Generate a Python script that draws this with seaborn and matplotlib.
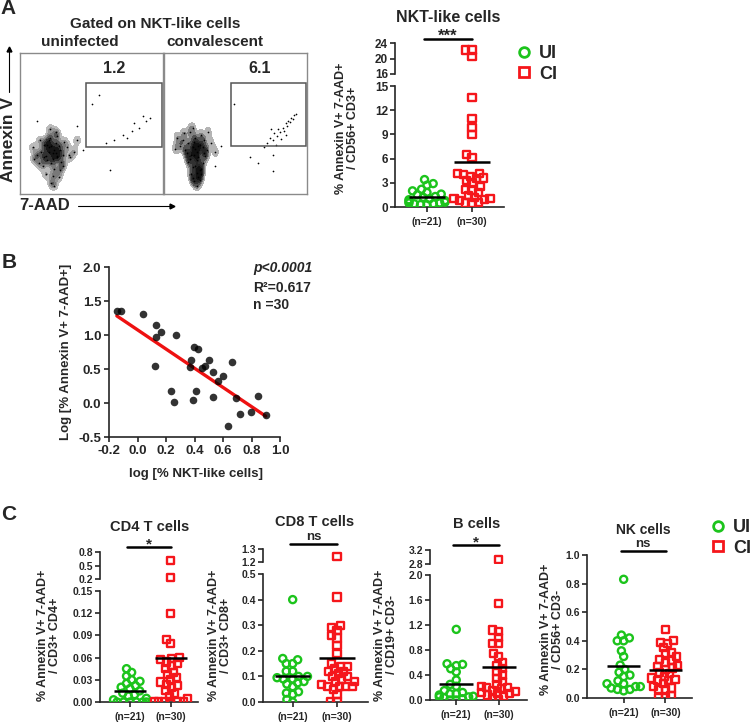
import numpy as np
import pandas as pd
import seaborn as sns
import matplotlib.pyplot as plt
import matplotlib.transforms as mtransforms
from matplotlib.lines import Line2D
from matplotlib.patches import Rectangle

W, H = 750, 724
GREEN = "#1cc41c"
RED = "#f5161b"

groups = ["UI", "CI"]
n_labels = ["(n=21)", "(n=30)"]

# panel A right: NKT-like cells
nkt_ui = [3.4, 2.9, 2.7, 2.2, 2.0, 1.8, 1.6, 1.5, 1.3, 1.2, 1.0, 0.9, 0.8, 0.7,
          0.6, 0.5, 0.5, 0.4, 0.3, 0.3, 0.4]
nkt_ci = [22.2, 22.2, 20.4, 13.6, 11.0, 9.8, 9.0, 6.5, 6.1, 4.2, 4.1, 4.0, 3.8,
          3.6, 3.5, 3.3, 3.0, 2.5, 2.2, 2.0, 1.8, 1.4, 1.2, 1.1, 1.0, 0.9, 0.8,
          0.6, 0.5, 0.5]

# panel B: correlation
log_nkt = [-0.145, -0.115, 0.039, 0.133, 0.133, 0.168, 0.121, 0.273, 0.238, 0.255,
           0.374, 0.367, 0.398, 0.426, 0.414, 0.386, 0.451, 0.477, 0.501, 0.531,
           0.531, 0.566, 0.602, 0.665, 0.691, 0.637, 0.719, 0.794, 0.848, 0.899]
log_apop = [1.35, 1.35, 1.31, 1.14, 0.965, 1.04, 0.55, 1.0, 0.17, 0.01,
            0.63, 0.535, 0.82, 0.79, 0.18, 0.04, 0.51, 0.545, 0.63, 0.46,
            0.09, 0.33, 0.39, 0.60, 0.07, -0.34, -0.16, -0.13, 0.11, -0.17]

# panel C
cd4_ui = [0.045, 0.040, 0.035, 0.030, 0.028, 0.025, 0.022, 0.020, 0.018, 0.015,
          0.012, 0.010, 0.008, 0.005, 0.003, 0, 0, 0, 0, 0, 0]
cd4_ci = [0.61, 0.23, 0.12, 0.085, 0.079, 0.060, 0.059, 0.057, 0.054, 0.052,
          0.049, 0.045, 0.040, 0.037, 0.033, 0.030, 0.027, 0.024, 0.022, 0.019,
          0.015, 0.012, 0.008, 0.004, 0, 0, 0, 0, 0, 0]
cd8_ui = [0.40, 0.17, 0.165, 0.15, 0.15, 0.12, 0.12, 0.10, 0.10, 0.095, 0.09,
          0.09, 0.08, 0.075, 0.07, 0.06, 0.04, 0.035, 0.03, 0.01, 0.0]
cd8_ci = [1.24, 0.41, 0.30, 0.29, 0.28, 0.26, 0.25, 0.22, 0.19, 0.15, 0.14, 0.14,
          0.13, 0.12, 0.12, 0.11, 0.10, 0.10, 0.09, 0.08, 0.08, 0.07, 0.06, 0.06,
          0.06, 0.06, 0.05, 0.03, 0.0, 0.0]
b_ui = [1.13, 0.58, 0.57, 0.55, 0.50, 0.45, 0.32, 0.25, 0.22, 0.15, 0.12, 0.10,
        0.10, 0.08, 0.06, 0.05, 0.05, 0.04, 0.02, 0.0, 0.0]
b_ci = [2.94, 1.55, 1.12, 1.10, 1.0, 0.9, 0.9, 0.75, 0.7, 0.6, 0.55, 0.5, 0.45,
        0.4, 0.35, 0.3, 0.25, 0.22, 0.2, 0.2, 0.18, 0.15, 0.13, 0.12, 0.1, 0.1,
        0.08, 0.06, 0.02, 0.0]
nk_ui = [0.83, 0.44, 0.42, 0.40, 0.40, 0.33, 0.29, 0.23, 0.20, 0.18, 0.16, 0.15,
         0.12, 0.10, 0.10, 0.08, 0.08, 0.07, 0.06, 0.06, 0.05]
nk_ci = [0.48, 0.40, 0.39, 0.38, 0.35, 0.32, 0.31, 0.29, 0.27, 0.26, 0.25, 0.23,
         0.22, 0.21, 0.20, 0.18, 0.17, 0.15, 0.14, 0.13, 0.12, 0.12, 0.10, 0.08,
         0.07, 0.06, 0.06, 0.02, 0.0, 0.0]

# flow dot plots (arbitrary 0-100 scale)
left_cloud_x = [23, 20, 26, 18, 28, 22, 25, 15, 30, 21, 24, 19, 27, 17, 29, 23, 12, 33,
                20, 26, 22, 16, 31, 25, 18, 28, 14, 35, 21, 24, 10, 38, 19, 27, 23, 22,
                13, 30, 26, 17, 20, 25, 9, 40, 24]
left_cloud_y = [29, 33, 26, 27, 31, 22, 36, 30, 28, 40, 18, 24, 34, 35, 23, 13, 28, 33,
                30, 41, 8, 20, 37, 44, 14, 17, 38, 26, 46, 31, 25, 30, 35, 12, 25, 34,
                22, 20, 27, 26, 38, 29, 33, 38, 6]
left_event_x = [66, 72, 78, 83, 88, 91, 60, 75, 44, 34, 55, 80, 50, 40, 86, 63, 12]
left_event_y = [38, 42, 45, 47, 52, 54, 36, 40, 31, 28, 70, 50, 64, 48, 55, 17, 52]
right_cloud_x = [20, 17, 23, 15, 25, 19, 22, 13, 27, 18, 24, 21, 16, 26, 30, 11, 20, 23,
                 18, 28, 9, 33, 22, 25, 19, 24, 27, 21, 23, 26, 20, 29, 17, 25, 22, 24,
                 21, 26, 23, 20, 14, 31, 36, 8, 28]
right_cloud_y = [33, 36, 30, 31, 35, 28, 40, 38, 33, 44, 26, 37, 29, 42, 31, 34, 47, 24,
                 25, 38, 40, 36, 20, 17, 14, 12, 22, 9, 15, 18, 19, 27, 23, 10, 32, 34,
                 28, 14, 6, 11, 43, 44, 30, 32, 29]
right_event_x = [72, 74, 76, 77, 79, 80, 81, 83, 84, 85, 86, 87, 88, 89, 90, 91, 92, 78,
                 82, 85, 75, 70, 60, 49, 66, 36, 40, 76, 76]
right_event_y = [36, 40, 38, 43, 41, 46, 44, 47, 45, 50, 48, 52, 51, 54, 53, 56, 57, 35,
                 39, 42, 46, 33, 26, 64, 22, 20, 34, 28, 16]
left_gate = [46, 99, 33, 79]
right_gate = [47, 99, 34, 79]

sns.set_style("white")
plt.rcParams["font.family"] = ["Liberation Sans", "DejaVu Sans"]
plt.rcParams["font.weight"] = "bold"
plt.rcParams["axes.labelweight"] = "bold"

fig = plt.figure(figsize=(W / 100, H / 100), dpi=100)


def px_axes(left, top, right, bottom):
    return fig.add_axes([left / W, 1 - bottom / H, (right - left) / W, (bottom - top) / H])


def ftext(x, y, s, **kw):
    kw.setdefault("ha", "center")
    kw.setdefault("va", "center")
    kw.setdefault("fontweight", "bold")
    fig.text(x / W, 1 - y / H, s, **kw)


swarm_colls = []


def style_axis(ax, fs, bottom=True):
    sns.despine(ax=ax, bottom=not bottom)
    ax.spines["left"].set_linewidth(1.2)
    ax.spines["bottom"].set_linewidth(1.2)
    ax.tick_params(axis="y", direction="out", length=3.5, width=1.2, labelsize=fs, pad=1.5, left=True)
    if bottom:
        ax.tick_params(axis="x", direction="out", length=3.5, width=1.2, labelsize=7.5, pad=4, bottom=True)
    else:
        ax.tick_params(axis="x", bottom=False, labelbottom=False)
    ax.set_xlabel("")
    ax.set_ylabel("")


def swarm(ax, ui, ci, means=True, clip=True):
    df = pd.DataFrame({"group": ["UI"] * len(ui) + ["CI"] * len(ci),
                       "value": list(ui) + list(ci)})
    for g, m, c in [("UI", "o", GREEN), ("CI", "s", RED)]:
        sub = df[df.group == g]
        if len(sub) == 0:
            continue
        n0 = len(ax.collections)
        sns.swarmplot(data=sub, x="group", y="value", order=groups,
                      marker=m, color=c, size=4.4, linewidth=0, ax=ax)
        for coll in ax.collections[n0:]:
            swarm_colls.append((coll, c, clip))
    if means:
        for i, v in enumerate([ui, ci]):
            ax.hlines(np.mean(v), i - 0.4, i + 0.4, color="black", lw=1.8, zorder=5)


def dot_panel(low_box, up_box, xlim, ui, ci, low_lim, low_ticks, up_lim, up_ticks,
              fmt, fs, sig, sig_y, sig_fs, sig_dy):
    ax = px_axes(*low_box)
    swarm(ax, ui, ci)
    ax.set_xlim(*xlim)
    ax.set_ylim(*low_lim)
    ax.set_yticks(low_ticks)
    ax.set_yticklabels([fmt.format(t) for t in low_ticks])
    ax.set_xticks([0, 1])
    ax.set_xticklabels(n_labels)
    style_axis(ax, fs)
    top_ax = ax
    if up_box is not None:
        ax2 = px_axes(*up_box)
        # only the values above the break belong on the upper segment
        swarm(ax2, [v for v in ui if v > low_lim[1]], [v for v in ci if v > low_lim[1]],
              means=False, clip=False)
        ax2.set_xlim(*xlim)
        ax2.set_ylim(*up_lim)
        ax2.set_yticks(up_ticks)
        ax2.set_yticklabels(["{:g}".format(t) if fmt == "{:g}" else "{:.1f}".format(t) for t in up_ticks])
        style_axis(ax2, fs, bottom=False)
        top_ax = ax2
    trans = mtransforms.blended_transform_factory(top_ax.transData, fig.transFigure)
    yb = 1 - sig_y / H
    top_ax.plot([-0.07, 1.01], [yb, yb], color="black", lw=1.8, transform=trans, clip_on=False)
    top_ax.text(0.47, 1 - (sig_y - sig_dy) / H, sig, transform=trans, ha="center", va="center",
                fontsize=sig_fs, fontweight="bold")
    return ax


# ---------------- panel A: flow plots ----------------
flow_cmap = sns.blend_palette(["#d0d0d0", "#3a3a3a", "#050505"], as_cmap=True)


def flow(box, cx, cy, ex, ey, gate, value):
    ax = px_axes(*box)
    sns.kdeplot(x=cx, y=cy, fill=True, cmap=flow_cmap, levels=7, thresh=0.07,
                bw_adjust=0.55, ax=ax)
    sns.scatterplot(x=cx + ex, y=cy + ey, s=1.5, color="black", linewidth=0, ax=ax)
    ax.add_patch(Rectangle((gate[0], gate[2]), gate[1] - gate[0], gate[3] - gate[2],
                           fill=False, ec="#555555", lw=1.1))
    ax.text(gate[0] + 20, 89, value, ha="center", va="center", fontsize=11.5, fontweight="bold")
    ax.set_xlim(0, 100)
    ax.set_ylim(0, 100)
    ax.set_xticks([])
    ax.set_yticks([])
    ax.set_xlabel("")
    ax.set_ylabel("")
    for s in ax.spines.values():
        s.set_color("#8a8a8a")
        s.set_linewidth(1.0)


flow((20, 53, 163, 194), left_cloud_x, left_cloud_y, left_event_x, left_event_y, left_gate, "1.2")
flow((164, 53, 307, 194), right_cloud_x, right_cloud_y, right_event_x, right_event_y, right_gate, "6.1")

ftext(8, 9, "A", fontsize=15)
ftext(155, 24, "Gated on NKT-like cells", fontsize=11)
ftext(80, 42, "uninfected", fontsize=11)
ftext(215, 42, "convalescent", fontsize=11)
ftext(9, 140, "Annexin V", rotation=90, fontsize=12.5)
ftext(45, 206, "7-AAD", fontsize=12)
fig.add_artist(plt.Line2D([9 / W, 9 / W], [1 - 92 / H, 1 - 50 / H], color="black", lw=0.8))
fig.add_artist(plt.Line2D([78 / W, 170 / W], [1 - 206 / H, 1 - 206 / H], color="black", lw=0.8))
fig.add_artist(plt.Line2D([9 / W], [1 - 49 / H], marker="^", ms=3.5, color="black", lw=0))
fig.add_artist(plt.Line2D([172 / W], [1 - 206 / H], marker=">", ms=3.5, color="black", lw=0))

# ---------------- panel A: NKT dot plot ----------------
dot_panel((395, 86, 504, 207), (395, 43, 504, 74), (-0.71, 1.71), nkt_ui, nkt_ci,
          (0, 15), [0, 3, 6, 9, 12, 15], (16, 24), [16, 20, 24], "{:g}", 8.5,
          "***", 39, 12, 3)
ftext(448, 17, "NKT-like cells", fontsize=11.5)
ftext(347, 128, "% Annexin V+ 7-AAD+\n/ CD56+ CD3+", rotation=90, fontsize=9, linespacing=1.0)

leg_handles = [Line2D([], [], marker="o", ls="", mfc="none", mec=GREEN, mew=2.0, ms=7),
               Line2D([], [], marker="s", ls="", mfc="none", mec=RED, mew=2.0, ms=7)]
leg_kw = dict(frameon=False, handlelength=0.6, handletextpad=0.5, labelspacing=0.2,
              borderpad=0, borderaxespad=0, prop={"size": 13, "weight": "bold"})
fig.legend(leg_handles, groups, loc="upper left", bbox_to_anchor=(519 / W, 1 - 45 / H), **leg_kw)

# ---------------- panel B ----------------
axb = px_axes(109, 267, 280, 437)
sns.regplot(x=log_nkt, y=log_apop, ci=None, ax=axb,
            scatter_kws={"color": "black", "s": 30, "linewidths": 0, "zorder": 3},
            line_kws={"color": "#ee1111", "lw": 2.4, "zorder": 2})
axb.set_xlim(-0.2, 1.0)
axb.set_ylim(-0.5, 2.0)
axb.set_xticks([-0.2, 0.0, 0.2, 0.4, 0.6, 0.8, 1.0])
axb.set_yticks([-0.5, 0.0, 0.5, 1.0, 1.5, 2.0])
axb.set_xticklabels(["{:.1f}".format(t) for t in axb.get_xticks()])
axb.set_yticklabels(["{:.1f}".format(t) for t in axb.get_yticks()])
style_axis(axb, 9.5)
axb.tick_params(axis="x", labelsize=9.5, pad=2)
axb.tick_params(axis="y", pad=2)
ftext(9, 263, "B", fontsize=15)
ftext(196, 474, "log [% NKT-like cells]", fontsize=9.5)
ftext(66, 352, "Log [% Annexin V+ 7-AAD+]", rotation=90, fontsize=9.5)
ftext(253, 268, "p<0.0001", ha="left", fontsize=10, style="italic")
ftext(253, 288, "R\u00b2=0.617", ha="left", fontsize=10)
ftext(253, 305, "n =30", ha="left", fontsize=10)

# ---------------- panel C ----------------
ftext(9, 515, "C", fontsize=15)
dot_panel((100, 591, 198, 702), (100, 552, 198, 579), (-0.73, 1.66), cd4_ui, cd4_ci,
          (0, 0.15), [0.0, 0.03, 0.06, 0.09, 0.12, 0.15], (0.2, 0.8), [0.2, 0.5, 0.8],
          "{:.2f}", 7.5, "*", 547, 11, 3)
ftext(150, 527, "CD4 T cells", fontsize=10.5)
ftext(49, 635, "% Annexin V+ 7-AAD+\n/ CD3+ CD4+", rotation=90, fontsize=9, linespacing=1.0)

dot_panel((263, 574, 368, 702), (263, 549, 368, 562), (-0.67, 1.7), cd8_ui, cd8_ci,
          (0, 0.5), [0.0, 0.1, 0.2, 0.3, 0.4, 0.5], (1.2, 1.3), [1.2, 1.3],
          "{:.1f}", 7.5, "ns", 544, 9.5, 7)
ftext(315, 522, "CD8 T cells", fontsize=10.5)
ftext(220, 635, "% Annexin V+ 7-AAD+\n/ CD3+ CD8+", rotation=90, fontsize=9, linespacing=1.0)

dot_panel((430, 575, 527, 700), (430, 550, 527, 564), (-0.62, 1.67), b_ui, b_ci,
          (0, 2.0), [0.0, 0.4, 0.8, 1.2, 1.6, 2.0], (2.8, 3.2), [2.8, 3.2],
          "{:.1f}", 7.5, "*", 545, 11, 3)
ftext(477, 524, "B cells", fontsize=10.5)
ftext(386, 635, "% Annexin V+ 7-AAD+\n/ CD19+ CD3-", rotation=90, fontsize=9, linespacing=1.0)

dot_panel((587, 555, 692, 698), None, (-0.88, 1.64), nk_ui, nk_ci,
          (0, 1.0), [0.0, 0.2, 0.4, 0.6, 0.8, 1.0], None, None,
          "{:.1f}", 7.5, "ns", 551, 9.5, 7)
ftext(643, 530, "NK cells", fontsize=10)
ftext(552, 629, "% Annexin V+ 7-AAD+\n/ CD56+ CD3-", rotation=90, fontsize=9, linespacing=1.0)

fig.legend(leg_handles, groups, loc="upper left", bbox_to_anchor=(713 / W, 1 - 519 / H), **leg_kw)

# lay out the swarms with small markers, then freeze and draw open markers over them
fig.canvas.draw()
for coll, c, clip in swarm_colls:
    is_swarm = coll.__dict__.pop("draw", None) is not None
    coll.set_facecolor("none")
    coll.set_edgecolor(c)
    coll.set_linewidth(1.7)
    coll.set_sizes([26])
    if is_swarm and len(coll.get_offsets()) > 0:
        coll.set_clip_on(clip)

fig.savefig("out.png", dpi=100)
